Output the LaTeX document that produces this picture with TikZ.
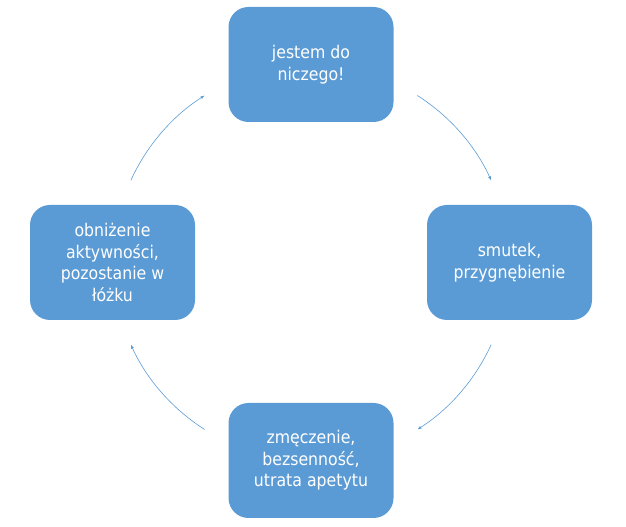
\documentclass[tikz,border=0pt]{standalone}
\usepackage{fontspec}
\setmainfont{DejaVu Sans Condensed}
\usetikzlibrary{arrows.meta, calc}
\definecolor{cycblue}{HTML}{5B9BD5}

\begin{document}
\begin{tikzpicture}[
  x=1pt, y=1pt,
  box/.style={rectangle, draw=none, rounded corners=20pt, fill=cycblue, text=white, align=center, font=\fontsize{17.5}{21.5}\selectfont, minimum width=165pt, minimum height=115pt},
  arr/.style={draw=cycblue, line width=0.6pt, -{Latex[length=4pt, width=3pt]}}
]
\useasboundingbox (0,0) rectangle (626,527);
\coordinate (mid) at (311,264.5);
\node[box] (worthless) at (311,462.5) {jestem do\\niczego!};
\node[box] (sadness) at (509.5,264.5) {smutek,\\przygnębienie};
\node[box] (fatigue) at (311,66.5) {zmęczenie,\\bezsenność,\\utrata apetytu};
\node[box] (inactive) at (112.5,264.5) {obniżenie\\aktywności,\\pozostanie w\\łóżku};
% clockwise arcs between the boxes
\foreach \s/\e [count=\i] in {57.5/24.5, -24.5/-57.5, -122.5/-155.5, 155.5/122.5}
  \coordinate (s\i) at ($(mid)+(\s:198)$);
\foreach \s/\e [count=\i] in {57.5/24.5, -24.5/-57.5, -122.5/-155.5, 155.5/122.5}
  \draw[arr] (s\i) arc[start angle=\s, end angle=\e, radius=198];
\end{tikzpicture}
\end{document}
